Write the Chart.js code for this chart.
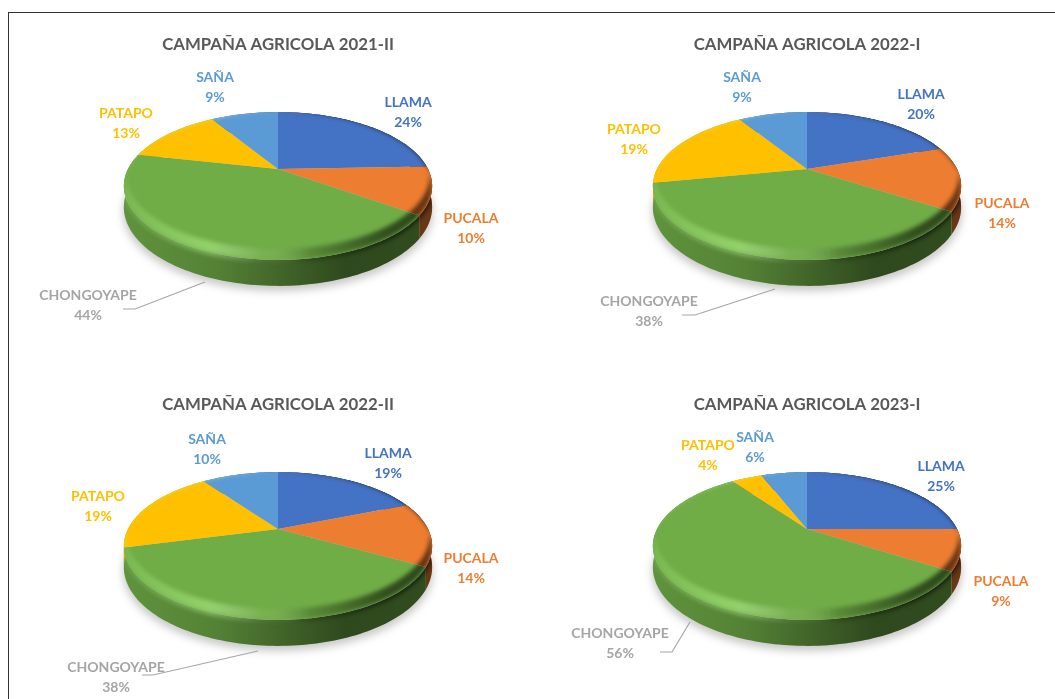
<!DOCTYPE html>
<html>
<head>
<meta charset="utf-8">
<script src="https://cdn.jsdelivr.net/npm/chart.js@4/dist/chart.umd.min.js"></script>
<style>
  html, body { margin: 0; background: #fff; }
  #page { position: relative; width: 1055px; height: 699px; overflow: hidden; }
  #frame { position: absolute; left: 8px; top: 12px; width: 1100px; height: 800px; border: 1.5px solid #333; }
  canvas { position: absolute; }
</style>
</head>
<body>
<div id="page"><div id="frame"></div></div>
<script>
const zonas = ['LLAMA', 'PUCALA', 'CHONGOYAPE', 'PATAPO', 'SAÑA'];
const campanas = ['CAMPAÑA AGRICOLA 2021-II', 'CAMPAÑA AGRICOLA 2022-I', 'CAMPAÑA AGRICOLA 2022-II', 'CAMPAÑA AGRICOLA 2023-I'];
const valores2021II = [24.4, 10.4, 43.6, 12.8, 8.8];
const valores2022I = [20, 14, 38, 19, 9];
const valores2022II = [19, 14, 38, 19, 10];
const valores2023I = [25, 9, 56, 4, 6];
const series = [valores2021II, valores2022I, valores2022II, valores2023I];

const colores = ['#4472C4', '#ED7D31', '#70AD47', '#FFC000', '#5B9BD5'];
const coloresTexto = ['#4472C4', '#ED7D31', '#A5A5A5', '#FFC000', '#5B9BD5'];

// where each panel sits on the page, and where its labels go (center of the name line, panel coords)
const paneles = [[0, 0], [529, 0], [0, 360], [529, 360]];
const etiquetas = [
  [[408, 102], [471, 218], [88, 295], [126, 113], [215, 77]],
  [[392, 94], [473, 203], [120, 301], [105, 129], [213, 77]],
  [[388, 93], [471, 198], [116, 307], [98, 136], [207, 79]],
  [[412, 106], [472, 221], [91, 273], [179, 85], [226, 77]]
];
const guias = [
  [[123, 309], [135, 309], [205, 282]],
  [[153, 315], [166, 315], [246, 289]],
  [[142, 315], [153, 315], [258, 291]],
  [[131, 292], [143, 292], [161, 262]]
];

// perspective of the tilted disc
const cy = 169, A = 150, B = 70, k = 0.23, D = 20;

function punto(cx, ang, fondo) {
  const t = ang + Math.PI / 2;
  const u = Math.sin(t), v = Math.cos(t), w = 1 + k * v;
  return [cx + A * u / w, cy - B * v / w + (fondo ? D / w : 0)];
}

function borde(path, cx, a0, a1, fondo) {
  const n = Math.max(2, Math.ceil(Math.abs(a1 - a0) * 40));
  for (let i = 0; i <= n; i++) {
    const p = punto(cx, a0 + (a1 - a0) * i / n, fondo);
    path.lineTo(p[0], p[1]);
  }
}

function disco(path, cx, sube, encoge) {
  for (let i = 0; i <= 240; i++) {
    const p = punto(cx, i / 240 * Math.PI * 2, false);
    const x = cx + (p[0] - cx) * encoge, y = p[1] - sube;
    if (i === 0) path.moveTo(x, y); else path.lineTo(x, y);
  }
  path.closePath();
}

const pastel3d = {
  id: 'pastel3d',
  beforeDatasetDraw(chart) {
    const ctx = chart.ctx;
    const arcos = chart.getDatasetMeta(0).data;
    const cx = arcos[0].x;

    // shadow on the floor
    ctx.save();
    ctx.filter = 'blur(4px)';
    ctx.fillStyle = 'rgba(0,0,0,0.22)';
    const sombra = new Path2D();
    for (let i = 0; i <= 240; i++) {
      const p = punto(cx, i / 240 * Math.PI * 2, true);
      const x = cx + (p[0] - cx) * 1.005, y = p[1] + 5;
      if (i === 0) sombra.moveTo(x, y); else sombra.lineTo(x, y);
    }
    sombra.closePath();
    ctx.fill(sombra);
    ctx.restore();

    const brillo = ctx.createLinearGradient(cx - A - 5, 0, cx + A + 5, 0);
    brillo.addColorStop(0, 'rgba(190,255,150,0.15)');
    brillo.addColorStop(0.28, 'rgba(190,255,150,0.45)');
    brillo.addColorStop(0.45, 'rgba(255,255,255,0.05)');
    brillo.addColorStop(0.6, 'rgba(0,0,0,0.2)');
    brillo.addColorStop(0.85, 'rgba(0,0,0,0.55)');
    brillo.addColorStop(1, 'rgba(0,0,0,0.6)');
    const aro = new Path2D();
    disco(aro, cx, 0, 1);

    // side wall
    const oscuro = ctx.createLinearGradient(cx - A - 5, 0, cx + A + 5, 0);
    oscuro.addColorStop(0, 'rgba(0,0,0,0.15)');
    oscuro.addColorStop(0.3, 'rgba(0,0,0,0.25)');
    oscuro.addColorStop(0.55, 'rgba(0,0,0,0.45)');
    oscuro.addColorStop(0.72, 'rgba(0,0,0,0.58)');
    oscuro.addColorStop(1, 'rgba(0,0,0,0.56)');
    arcos.forEach((arc, i) => {
      const muro = new Path2D();
      const ini = punto(cx, arc.startAngle, false);
      muro.moveTo(ini[0], ini[1]);
      borde(muro, cx, arc.startAngle, arc.endAngle, false);
      borde(muro, cx, arc.endAngle, arc.startAngle, true);
      muro.closePath();
      ctx.fillStyle = colores[i];
      ctx.fill(muro);
      ctx.fillStyle = oscuro;
      ctx.fill(muro);
      // soft edge where wall meets the face
      ctx.save();
      ctx.clip(muro);
      ctx.filter = 'blur(2px)';
      ctx.strokeStyle = brillo;
      ctx.lineWidth = 5;
      ctx.stroke(aro);
      ctx.restore();
    });

    // top face with its soft bevel
    const banda = new Path2D();
    disco(banda, cx, 0, 1);
    disco(banda, cx, 11, 0.985);
    arcos.forEach((arc, i) => {
      const cara = new Path2D();
      cara.moveTo(cx, cy);
      borde(cara, cx, arc.startAngle, arc.endAngle, false);
      cara.closePath();
      ctx.fillStyle = colores[i];
      ctx.fill(cara);
      ctx.save();
      ctx.clip(cara);
      ctx.filter = 'blur(2px)';
      ctx.fillStyle = brillo;
      ctx.fill(banda, 'evenodd');
      ctx.restore();
    });
    return false;
  },
  afterDraw(chart, args, opts) {
    const ctx = chart.ctx;
    ctx.save();
    ctx.strokeStyle = '#A6A6A6';
    ctx.lineWidth = 1.2;
    ctx.beginPath();
    opts.guia.forEach((p, i) => i ? ctx.lineTo(p[0], p[1]) : ctx.moveTo(p[0], p[1]));
    ctx.stroke();
    ctx.font = 'bold 14px Lato';
    ctx.textAlign = 'center';
    ctx.textBaseline = 'middle';
    chart.data.labels.forEach((nombre, i) => {
      const p = opts.sitios[i];
      ctx.fillStyle = coloresTexto[i];
      ctx.fillText(nombre, p[0], p[1]);
      ctx.fillText(Math.round(chart.data.datasets[0].data[i]) + '%', p[0], p[1] + 20);
    });
    ctx.restore();
  }
};

const page = document.getElementById('page');
series.forEach((valores, n) => {
  const canvas = document.createElement('canvas');
  canvas.width = 556;
  canvas.height = 360;
  canvas.style.left = paneles[n][0] + 'px';
  canvas.style.top = paneles[n][1] + 'px';
  page.appendChild(canvas);
  new Chart(canvas, {
    type: 'pie',
    data: {
      labels: zonas,
      datasets: [{ data: valores, backgroundColor: colores, borderWidth: 0 }]
    },
    plugins: [pastel3d],
    options: {
      responsive: false,
      animation: false,
      plugins: {
        legend: { display: false },
        tooltip: { enabled: false },
        title: {
          display: true,
          text: campanas[n],
          color: '#595959',
          font: { family: 'Lato', size: 16.8, weight: 'bold' },
          padding: { top: 35, bottom: 10 }
        },
        pastel3d: { sitios: etiquetas[n], guia: guias[n] }
      }
    }
  });
});
</script>
</body>
</html>
